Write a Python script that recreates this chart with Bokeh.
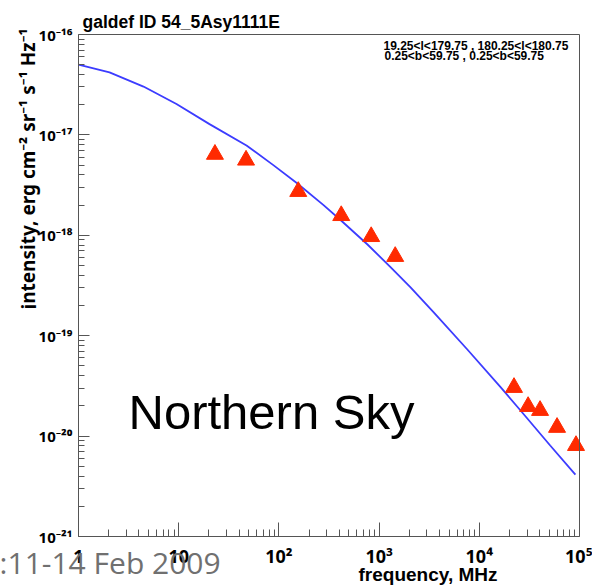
from bokeh.plotting import figure
from bokeh.models import Label, FixedTicker, LogAxis, ColumnDataSource
from bokeh.embed import file_html
from bokeh.resources import INLINE

# Model synchrotron spectrum (blue curve), frequency in MHz
model_freq_mhz = [1, 2.04, 4.45, 9.5, 20.3, 47.5, 88, 153, 279, 412, 766,
                  1300, 2060, 3490, 7600, 16300, 25800, 51000, 91000]
model_intensity = [5.02e-17, 4.20e-17, 3.03e-17, 2.03e-17, 1.28e-17, 7.84e-18,
                   5.00e-18, 3.28e-18, 2.00e-18, 1.42e-18, 8.10e-19, 4.82e-19,
                   3.03e-19, 1.72e-19, 7.29e-20, 3.08e-20, 1.80e-20, 8.06e-21,
                   4.14e-21]

# Radio survey / microwave measurements (red triangles)
data_freq_mhz = [23, 47, 156, 419, 834, 1448, 22200, 30700, 40400, 59700, 92300]
data_intensity = [6.4e-18, 5.6e-18, 2.73e-18, 1.57e-18, 9.7e-19, 6.15e-19,
                  3.05e-20, 1.97e-20, 1.80e-20, 1.22e-20, 8.05e-21]

x_tick_values = [1, 10, 100, 1000, 10000, 100000]
x_tick_labels = ["1", "10", "10²", "10³", "10⁴", "10⁵"]
y_tick_values = [1e-21, 1e-20, 1e-19, 1e-18, 1e-17, 1e-16]
y_tick_labels = ["10⁻²¹", "10⁻²⁰", "10⁻¹⁹", "10⁻¹⁸", "10⁻¹⁷", "10⁻¹⁶"]

title_text = "galdef ID 54_5Asy1111E"
region_lines = ["19.25<l<179.75 , 180.25<l<180.75",
                "0.25<b<59.75 ,  0.25<b<59.75"]
x_title = "frequency, MHz"
y_title = "intensity, erg cm⁻² sr⁻¹ s⁻¹ Hz⁻¹"
sky_text = "Northern Sky"
date_text = "11-14 Feb 2009"

# canvas size and the pixel box that holds the decades 1..1e5 / 1e-21..1e-16
W, H = 592, 588
LEFT, RIGHT, TOP, BOTTOM = 78, 579, 34, 536
X_DEC = (RIGHT - LEFT) / 5.0
Y_DEC = (BOTTOM - TOP) / 5.0

# the plotting frame spans the whole canvas; ranges are widened so that the
# axis box sits at LEFT..RIGHT / TOP..BOTTOM and all text can go around it
x_range = (10 ** (-LEFT / X_DEC), 10 ** (5 + (W - RIGHT) / X_DEC))
y_range = (10 ** (-21 - (H - BOTTOM) / Y_DEC), 10 ** (-16 + TOP / Y_DEC))

p = figure(width=W, height=H, x_axis_type="log", y_axis_type="log",
           x_range=x_range, y_range=y_range,
           output_backend="svg", toolbar_location=None,
           min_border=0, min_border_left=0, min_border_right=0,
           min_border_top=0, min_border_bottom=0)
p.background_fill_color = "white"
p.border_fill_color = "white"
p.grid.visible = False
p.outline_line_color = None

AXIS_COLOR = "#555555"
TICK_FONT = "Noto Sans"

xaxis = p.xaxis[0]
x_minor = [m * d for d in x_tick_values[:-1] for m in range(2, 10)]
xaxis.ticker = FixedTicker(ticks=x_tick_values, minor_ticks=x_minor)
xaxis.major_label_overrides = dict(zip(x_tick_values, x_tick_labels))
xaxis.fixed_location = y_tick_values[0]
xaxis.bounds = (x_tick_values[0], x_tick_values[-1])
xaxis.major_tick_in = 14
xaxis.major_tick_out = 0
xaxis.minor_tick_in = 7
xaxis.minor_tick_out = 0
xaxis.major_label_standoff = 7
xaxis.major_label_text_font = TICK_FONT
xaxis.major_label_text_font_style = "bold"
xaxis.major_label_text_font_size = "18px"
xaxis.major_label_text_color = "black"

yaxis = p.yaxis[0]
y_minor = [m * d for d in y_tick_values[:-1] for m in range(2, 10)]
yaxis.ticker = FixedTicker(ticks=y_tick_values, minor_ticks=y_minor)
yaxis.major_label_overrides = dict(zip(y_tick_values, y_tick_labels))
yaxis.fixed_location = x_tick_values[0]
yaxis.bounds = (y_tick_values[0], y_tick_values[-1])
yaxis.major_tick_in = 11
yaxis.major_tick_out = 0
yaxis.minor_tick_in = 6
yaxis.minor_tick_out = 0
yaxis.major_label_standoff = 6
yaxis.major_label_text_font = TICK_FONT
yaxis.major_label_text_font_style = "bold"
yaxis.major_label_text_font_size = "15px"
yaxis.major_label_text_color = "black"

# plain top and right edges of the box
top_edge = LogAxis(ticker=FixedTicker(ticks=[]), fixed_location=y_tick_values[-1],
                   bounds=(x_tick_values[0], x_tick_values[-1]))
right_edge = LogAxis(ticker=FixedTicker(ticks=[]), fixed_location=x_tick_values[-1],
                     bounds=(y_tick_values[0], y_tick_values[-1]))
p.add_layout(top_edge, "above")
p.add_layout(right_edge, "right")

for ax in (xaxis, yaxis, top_edge, right_edge):
    ax.axis_line_color = AXIS_COLOR
    ax.axis_line_width = 1
    ax.major_tick_line_color = AXIS_COLOR
    ax.minor_tick_line_color = AXIS_COLOR

model_src = ColumnDataSource(dict(f=model_freq_mhz, i=model_intensity))
data_src = ColumnDataSource(dict(f=data_freq_mhz, i=data_intensity))

p.line("f", "i", source=model_src, line_color="#3c3cff", line_width=1.8)
p.scatter("f", "i", source=data_src, marker="triangle", size=17,
          fill_color="#ff2a00", line_color="#ff2a00")


def add_text(x, y, text, size, font="Liberation Sans", style="bold",
             align="left", color="black", angle=0.0):
    # x, y are canvas pixels from the top-left; text is centred vertically
    p.add_layout(Label(x=x, y=H - y, x_units="screen", y_units="screen",
                       text=text, text_font=font, text_font_size=size,
                       text_font_style=style, text_align=align,
                       text_baseline="middle", text_color=color, angle=angle))


add_text(82, 21, title_text, "17.5px")
add_text(383, 45, region_lines[0], "12px")
add_text(384, 55, region_lines[1], "12px")
add_text(497, 574, x_title, "19px", align="right")
add_text(28, 309, y_title, "19px", font=TICK_FONT, angle=1.5708)
add_text(128, 411, sky_text, "49px", style="normal")
add_text(-1, 562, ":", "30px", font="Open Sans", style="normal", color="#707070")
add_text(7, 562, date_text, "30px", font="Open Sans", style="normal",
         color="#707070")

open("out.html", "w").write(file_html(p, INLINE))
